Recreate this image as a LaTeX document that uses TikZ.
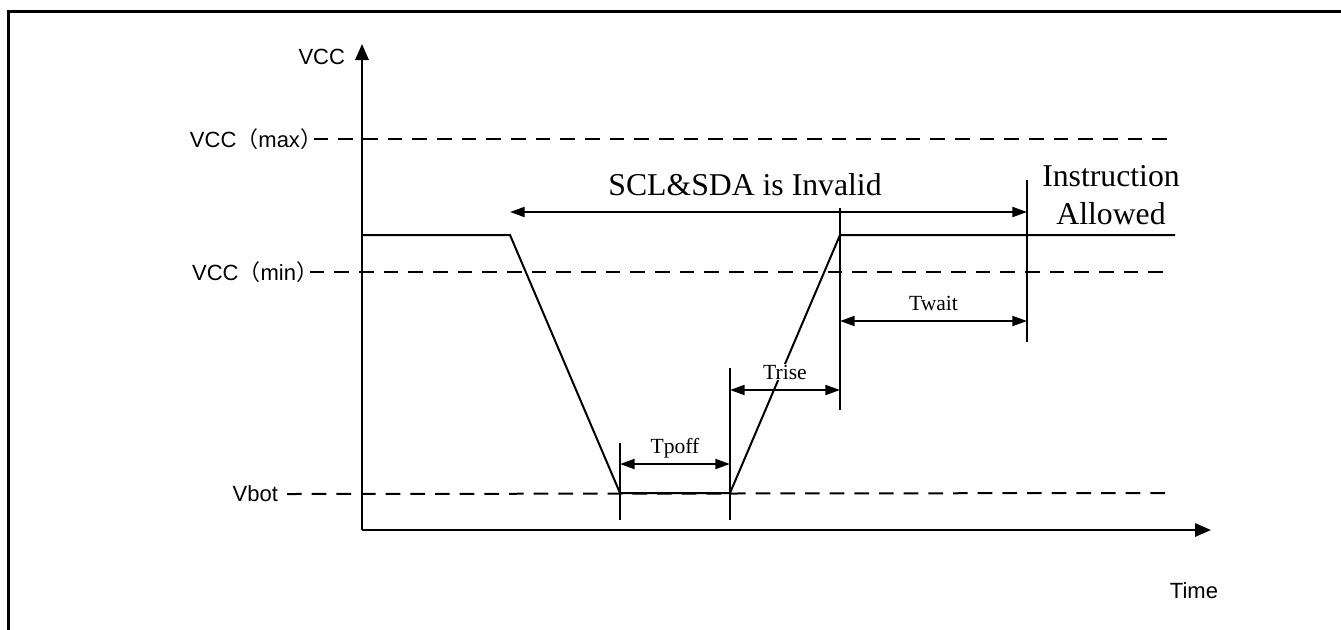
\documentclass[tikz,border=0pt]{standalone}
\usepackage{fontspec}
\setmainfont{Liberation Serif}
\newfontfamily\arialfont{Liberation Sans}
\newfontfamily\cjkfont{Noto Sans CJK SC}
\usetikzlibrary{arrows.meta}

\begin{document}
\begin{tikzpicture}[
    x=0.75pt, y=-0.75pt,
    line width=1.5pt,
    every node/.style={inner sep=0pt},
    axis/.style={line width=1.6pt,-{Triangle[length=12pt,width=10pt]}},
    level/.style={dash pattern=on 11pt off 7.5pt},
    dim/.style={{Triangle[length=11pt,width=7.5pt]}-{Triangle[length=11pt,width=7.5pt]}},
    lbl/.style={font=\arialfont\fontsize{16.5}{18}\selectfont},
    tlbl/.style={font=\fontsize{16.2}{18}\selectfont,midway,anchor=base,yshift=8pt,
      fill=white,inner xsep=1pt,inner ysep=0.5pt},
    big/.style={font=\fontsize{23.8}{29}\selectfont,align=center},
  ]
  \useasboundingbox (0,0) rectangle (1341,629);
  % Frame
  \draw[line width=2.25pt] (1345,11) -- (8,11) -- (8,633);

  % Axes
  \coordinate (o) at (362,530);
  \coordinate (ytop) at (362,44);
  \coordinate (xend) at (1211,530);
  \draw[axis] (o) -- (ytop);
  \draw[axis] (o) -- (xend);
  \node[lbl,anchor=east] (vcc) at (346,57) {VCC};
  \node[lbl] (time) at (1194,591) {Time};

  % Levels
  \node[lbl,anchor=east] (vmax) at (323,139) {VCC{\cjkfont （}max{\cjkfont ）}};
  \node[lbl,anchor=east] (vmin) at (319,272) {VCC{\cjkfont （}min{\cjkfont ）}};
  \node[lbl,anchor=east] (vbot) at (279,494) {Vbot};
  \coordinate (vmaxR) at (1170,139);
  \coordinate (vminR) at (1170,272);
  \coordinate (vbotR) at (1170,493);
  \draw[level] ([xshift=-7pt]vmax.east) -- (vmaxR);
  \draw[level] ([xshift=-7pt]vmin.east) -- (vminR);
  \draw[level] ([xshift=6pt]vbot.east) -- (vbotR);

  % Supply curve
  \coordinate (s0) at (362,235);
  \coordinate (s1) at (510,235);
  \coordinate (s2) at (620,493);
  \coordinate (s3) at (730,493);
  \coordinate (s4) at (840,235);
  \coordinate (s5) at (1175,235);
  \draw (s0) -- (s1) -- (s2) -- (s3) -- (s4) -- (s5);

  % Ticks
  \coordinate (k1a) at (620,443); \coordinate (k1b) at (620,520);
  \coordinate (k2a) at (730,368); \coordinate (k2b) at (730,520);
  \coordinate (k3a) at (840,208); \coordinate (k3b) at (840,410);
  \coordinate (k4a) at (1027,180); \coordinate (k4b) at (1027,342);
  \draw (k1a) -- (k1b);
  \draw (k2a) -- (k2b);
  \draw (k3a) -- (k3b);
  \draw (k4a) -- (k4b);

  % Timings
  \draw[dim] (620,464) -- node[tlbl] (tpoff) {Tpoff} (730,464);
  \draw[dim] (730,390) -- node[tlbl] (trise) {Trise} (840,390);
  \draw[dim] (840,321) -- node[tlbl] (twait) {Twait} (1027,321);
  \draw[dim] (510,212) -- (1027,212);
  \node[big,anchor=base] (invalid) at (745,195) {SCL\&SDA is Invalid};
  \node[big,anchor=north] (allowed) at (1111,164) {Instruction\\Allowed};
\end{tikzpicture}
\end{document}
